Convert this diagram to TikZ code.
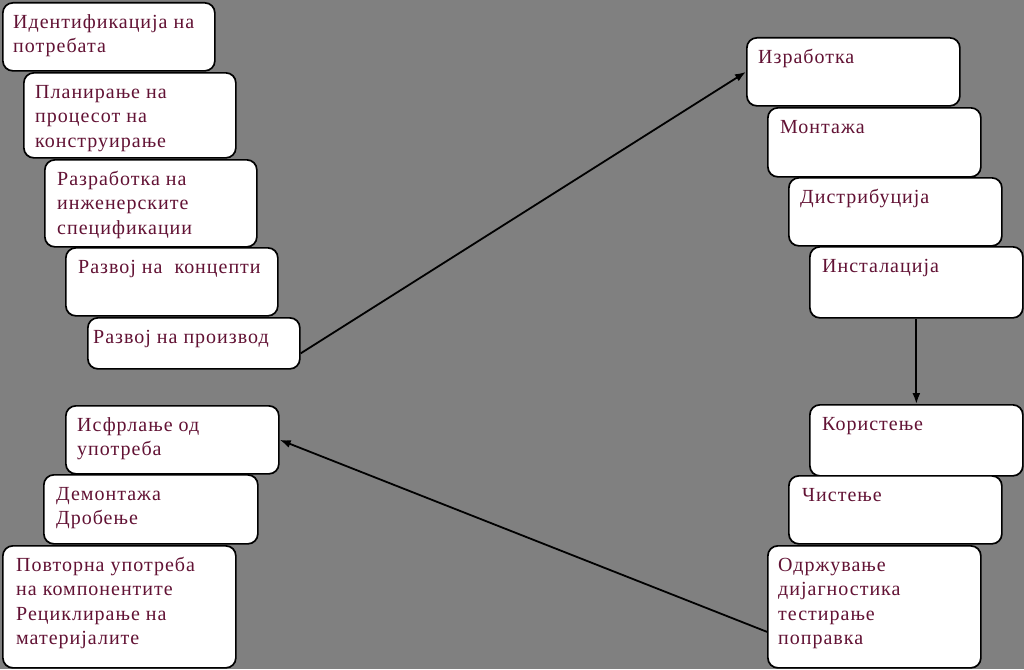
\documentclass[tikz,border=0pt]{standalone}
\usepackage{fontspec}
\setmainfont{Liberation Serif}[LetterSpace=5]
\usetikzlibrary{arrows.meta}
\definecolor{bggray}{RGB}{128,128,128}
\definecolor{txtred}{RGB}{98,18,52}
\tikzset{
  box/.style={draw=black, fill=white, line width=1.7pt, rounded corners=10pt, anchor=north west, inner sep=0pt},
  txt/.style={anchor=north west, inner sep=0pt, align=left, text=txtred, font=\fontsize{20}{24.5}\selectfont},
  conn/.style={line width=1.8pt, -{Latex[length=11pt,width=8pt]}}
}
\newcommand{\stepnode}[7]{%
  \node[box, minimum width=#4pt, minimum height=#5pt] (#1) at (#2,#3) {};
  \node[txt] (#1t) at ([shift={(#6pt,-9pt)}]#1.north west) {\strut #7};
}
\begin{document}
\begin{tikzpicture}[x=1pt,y=-1pt]
\fill[bggray] (0,0) rectangle (1024,669);
\useasboundingbox (0,0) rectangle (1024,669);
% left top column
\stepnode{n1}{2}{2}{212}{68}{11}{Идентификација на\\потребата}
\stepnode{n2}{23}{72}{212}{85}{12}{Планирање на\\процесот на\\конструирање}
\stepnode{n3}{44}{159}{212}{87}{13}{Разработка на\\инженерските\\спецификации}
\stepnode{n4}{65}{247}{212}{68}{13}{Развој на\ \ концепти}
\stepnode{n5}{87}{317}{212}{51}{6}{Развој на производ}
% right column
\stepnode{n6}{746}{37}{213}{68}{12}{Изработка}
\stepnode{n7}{767}{107}{213}{69}{13}{Монтажа}
\stepnode{n8}{788}{177}{213}{68}{12}{Дистрибуција}
\stepnode{n9}{809}{246}{213}{71}{13}{Инсталација}
\stepnode{n10}{809}{404}{213}{71}{13}{Користење}
\stepnode{n11}{788}{475}{213}{68}{14}{Чистење}
\stepnode{n12}{767}{545}{213}{122}{11}{Одржување\\дијагностика\\тестирање\\поправка}
% left bottom column
\stepnode{n13}{65}{405}{213}{68}{12}{Исфрлање од\\употреба}
\stepnode{n14}{43}{474}{214}{69}{13}{Демонтажа\\Дробење}
\stepnode{n15}{2}{545}{233}{122}{14}{Повторна употреба\\на компонентите\\Рециклирање на\\материјалите}
% connectors
\draw[conn] ([yshift=-10pt]n5.east) -- (n6.west);
\draw[conn] (n9.south) -- (n10.north);
\draw[conn] ([yshift=-25pt]n12.west) -- (n13.east);
\end{tikzpicture}
\end{document}
